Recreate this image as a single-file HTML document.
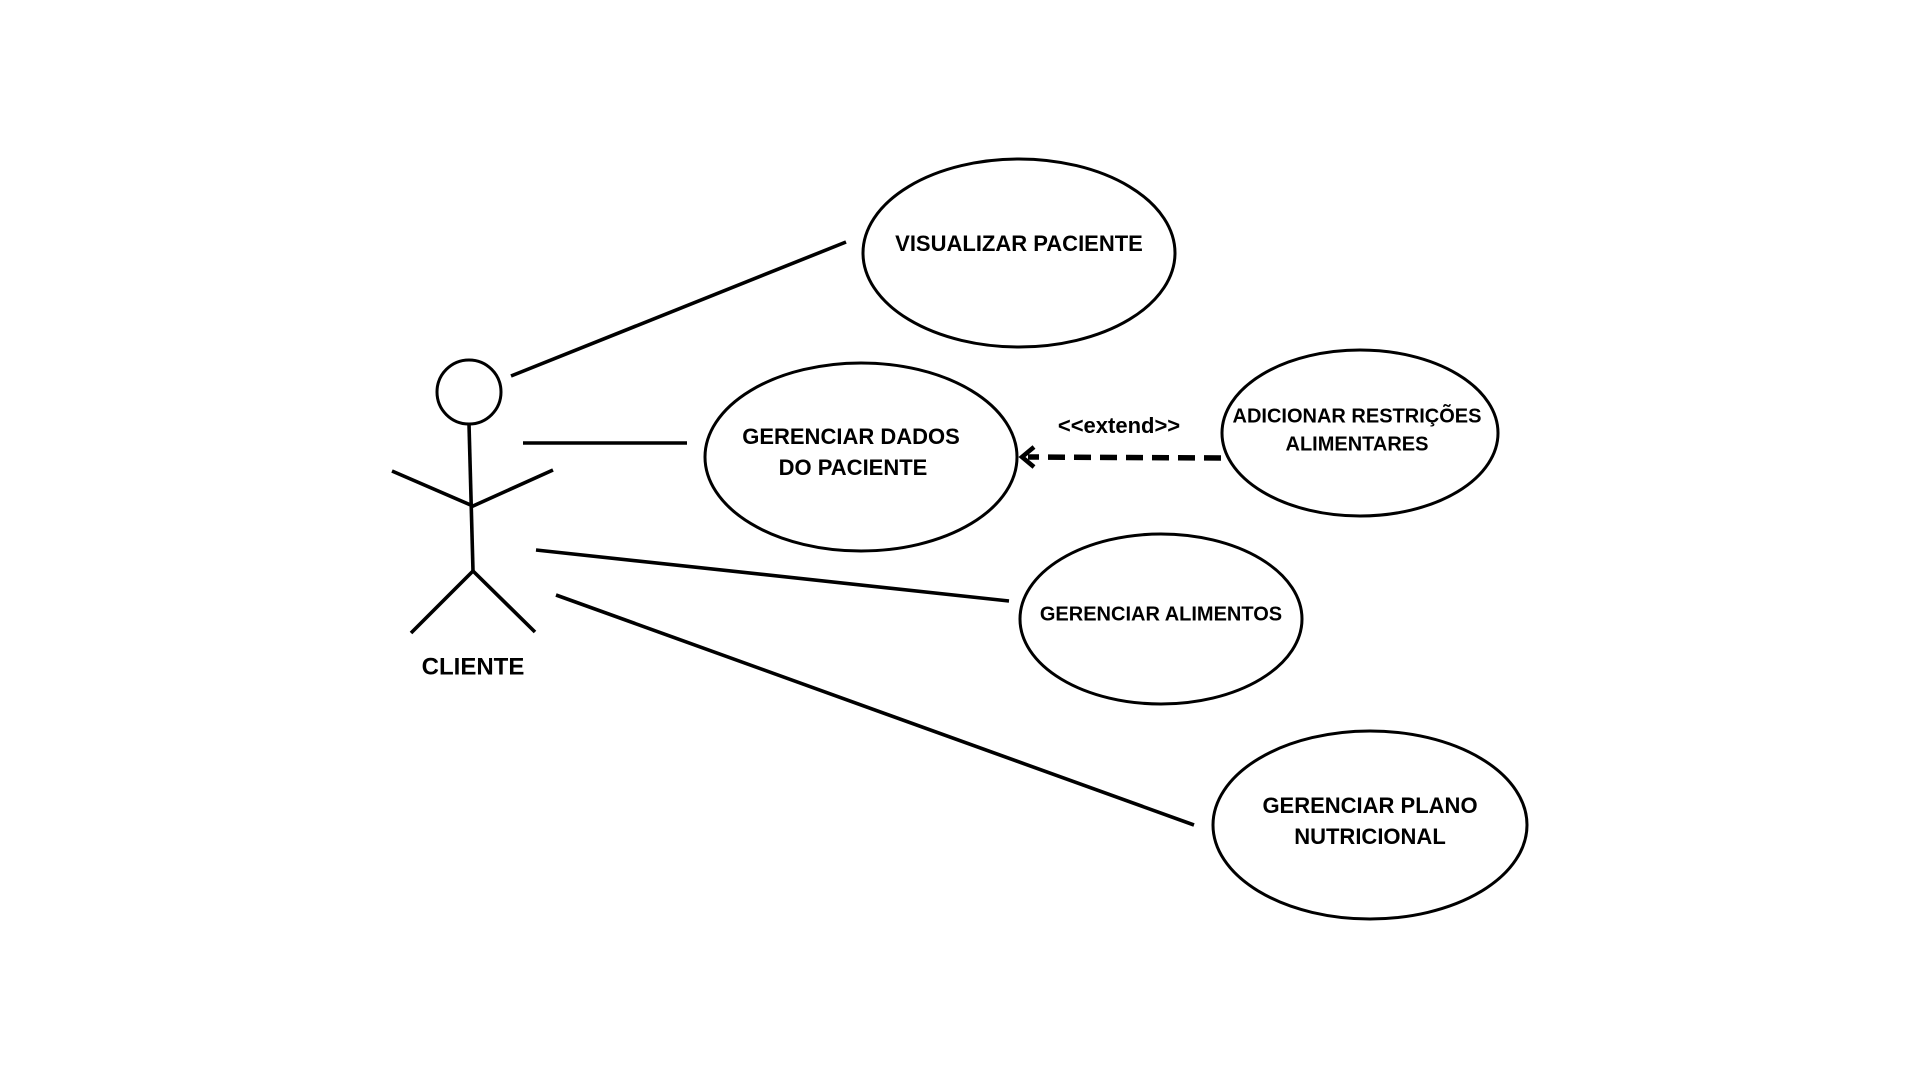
<!DOCTYPE html>
<html><head><meta charset="utf-8"><style>
html,body{margin:0;padding:0;background:#fff;}
svg{display:block;}
text{font-family:"Liberation Sans",Arial,sans-serif;font-weight:bold;fill:#000;text-anchor:middle;dominant-baseline:middle;}
</style></head><body>
<svg width="1920" height="1080" viewBox="0 0 1920 1080" xmlns="http://www.w3.org/2000/svg">
<rect width="1920" height="1080" fill="#fff"/>
<g fill="none" stroke="#000" stroke-width="3">
<ellipse cx="1019" cy="253" rx="156" ry="94"/>
<ellipse cx="861" cy="457" rx="156" ry="94"/>
<ellipse cx="1360" cy="433" rx="138" ry="83"/>
<ellipse cx="1161" cy="619" rx="141" ry="85"/>
<ellipse cx="1370" cy="825" rx="157" ry="94"/>
<circle cx="469" cy="392" r="32"/>
</g>
<g fill="none" stroke="#000" stroke-width="3.6" stroke-linecap="butt">
<line x1="469" y1="424" x2="473" y2="571"/>
<polyline points="392,471 473,506 553,470"/>
<polyline points="411,633 473,571 535,632"/>
<line x1="511" y1="376" x2="846" y2="242"/>
<line x1="523" y1="443" x2="687" y2="443"/>
<line x1="536" y1="550" x2="1009" y2="601"/>
<line x1="556" y1="595" x2="1194" y2="825"/>
<line x1="1221" y1="458" x2="1028" y2="457" stroke-width="5.5" stroke-dasharray="17,9"/>
<polyline points="1034,447 1022,457 1034,467" stroke-width="4.5"/>
</g>
<text x="473" y="668" font-size="24">CLIENTE</text>
<text x="1019" y="245" font-size="22">VISUALIZAR PACIENTE</text>
<text x="851" y="438" font-size="22">GERENCIAR DADOS</text>
<text x="853" y="469" font-size="22">DO PACIENTE</text>
<text x="1357" y="417" font-size="20">ADICIONAR RESTRIÇÕES</text>
<text x="1357" y="445" font-size="20">ALIMENTARES</text>
<text x="1161" y="615" font-size="20">GERENCIAR ALIMENTOS</text>
<text x="1370" y="807" font-size="22">GERENCIAR PLANO</text>
<text x="1370" y="838" font-size="22">NUTRICIONAL</text>
<text x="1119" y="427" font-size="22">&lt;&lt;extend&gt;&gt;</text>
</svg>
</body></html>
